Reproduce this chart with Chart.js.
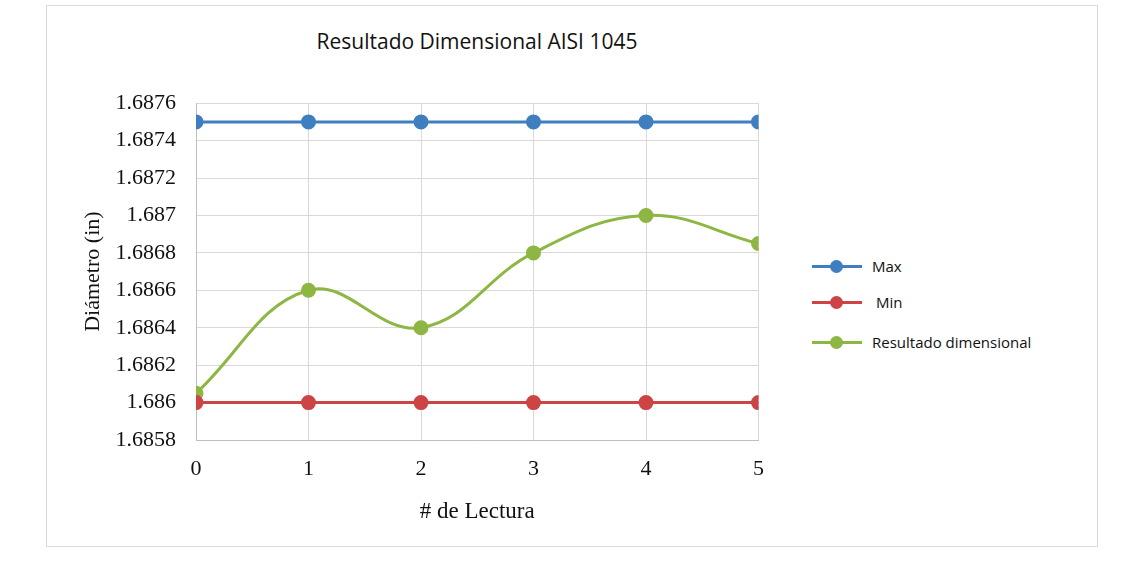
<!DOCTYPE html>
<html>
<head>
<meta charset="utf-8">
<script src="https://cdn.jsdelivr.net/npm/chart.js@4/dist/chart.umd.min.js"></script>
<style>
  body { margin: 0; background: #fff; width: 1141px; height: 588px; position: relative; font-family: "Open Sans", sans-serif; }
  #marco { position: absolute; left: 46px; top: 5px; width: 1050px; height: 540px; border: 1px solid #d9d9d9; }
  #titulo { position: absolute; left: 277px; width: 400px; top: 27px; text-align: center; font-size: 21px; color: #111; }
  #caja { position: absolute; left: 76px; top: 70px; width: 704px; height: 460px; }
  .ley { position: absolute; left: 812px; font-size: 15px; color: #111; }
  .ley span.l { position: absolute; left: 0; top: 9px; width: 50px; height: 3px; }
  .ley span.p { position: absolute; left: 18px; top: 4px; width: 13px; height: 13px; border-radius: 50%; }
  .ley span.t { position: absolute; left: 60px; top: 0; white-space: nowrap; }
</style>
</head>
<body>
<div id="marco"></div>
<div id="titulo">Resultado Dimensional AISI 1045</div>
<div id="caja"><canvas id="grafico"></canvas></div>
<div class="ley" style="top:256px"><span class="l" style="background:#3f7fc0"></span><span class="p" style="background:#3f7fc0"></span><span class="t">Max</span></div>
<div class="ley" style="top:292px"><span class="l" style="background:#cc4444"></span><span class="p" style="background:#cc4444"></span><span class="t">&nbsp;Min</span></div>
<div class="ley" style="top:332px"><span class="l" style="background:#8db642"></span><span class="p" style="background:#8db642"></span><span class="t">Resultado dimensional</span></div>
<script>
// Datos
const lecturas = [0, 1, 2, 3, 4, 5]
const valoresMax = [1.6875, 1.6875, 1.6875, 1.6875, 1.6875, 1.6875]
const valoresMin = [1.686, 1.686, 1.686, 1.686, 1.686, 1.686]
const resultado = [1.68605, 1.6866, 1.6864, 1.6868, 1.687, 1.68685]

function serie(label, valores, color, tension) {
    return {
        label: label,
        data: lecturas.map((x, i) => ({ x: x, y: valores[i] })),
        borderColor: color,
        backgroundColor: color,
        borderWidth: 3,
        pointRadius: 6,
        pointHoverRadius: 6,
        tension: tension
    }
}

const fuenteEje = { family: "'Liberation Serif', serif", size: 22 }

const ctx = document.getElementById("grafico").getContext("2d")
new Chart(ctx, {
    type: "line",
    data: {
        datasets: [
            serie("Max", valoresMax, "#3f7fc0", 0),
            serie("Min", valoresMin, "#cc4444", 0),
            serie("Resultado dimensional", resultado, "#8db642", 0.4)
        ]
    },
    options: {
        responsive: true,
        maintainAspectRatio: false,
        animation: false,
        layout: { padding: { top: 20, right: 12 } },
        plugins: { legend: { display: false }, tooltip: { enabled: false } },
        scales: {
            x: {
                type: "linear",
                min: 0,
                max: 5,
                ticks: { stepSize: 1, color: "#111", font: fuenteEje, padding: 16 },
                grid: { color: "#d9d9d9", drawTicks: false },
                border: { color: "#bfbfbf" },
                title: { display: true, text: "# de Lectura", color: "#111", font: { family: "'Liberation Serif', serif", size: 23 }, padding: { top: 6 } },
                afterFit: (s) => { s.height = 90 }
            },
            y: {
                min: 1.6858,
                max: 1.6876,
                ticks: {
                    stepSize: 0.0002,
                    color: "#111",
                    font: fuenteEje,
                    padding: 20,
                    callback: (v) => parseFloat(v.toFixed(4)).toString()
                },
                grid: { color: "#d9d9d9", drawTicks: false },
                border: { color: "#bfbfbf" },
                title: { display: true, text: "Diámetro (in)", color: "#111", font: { family: "'Liberation Serif', serif", size: 22 } },
                afterFit: (s) => { s.width = 120 }
            }
        }
    }
})
</script>
</body>
</html>
